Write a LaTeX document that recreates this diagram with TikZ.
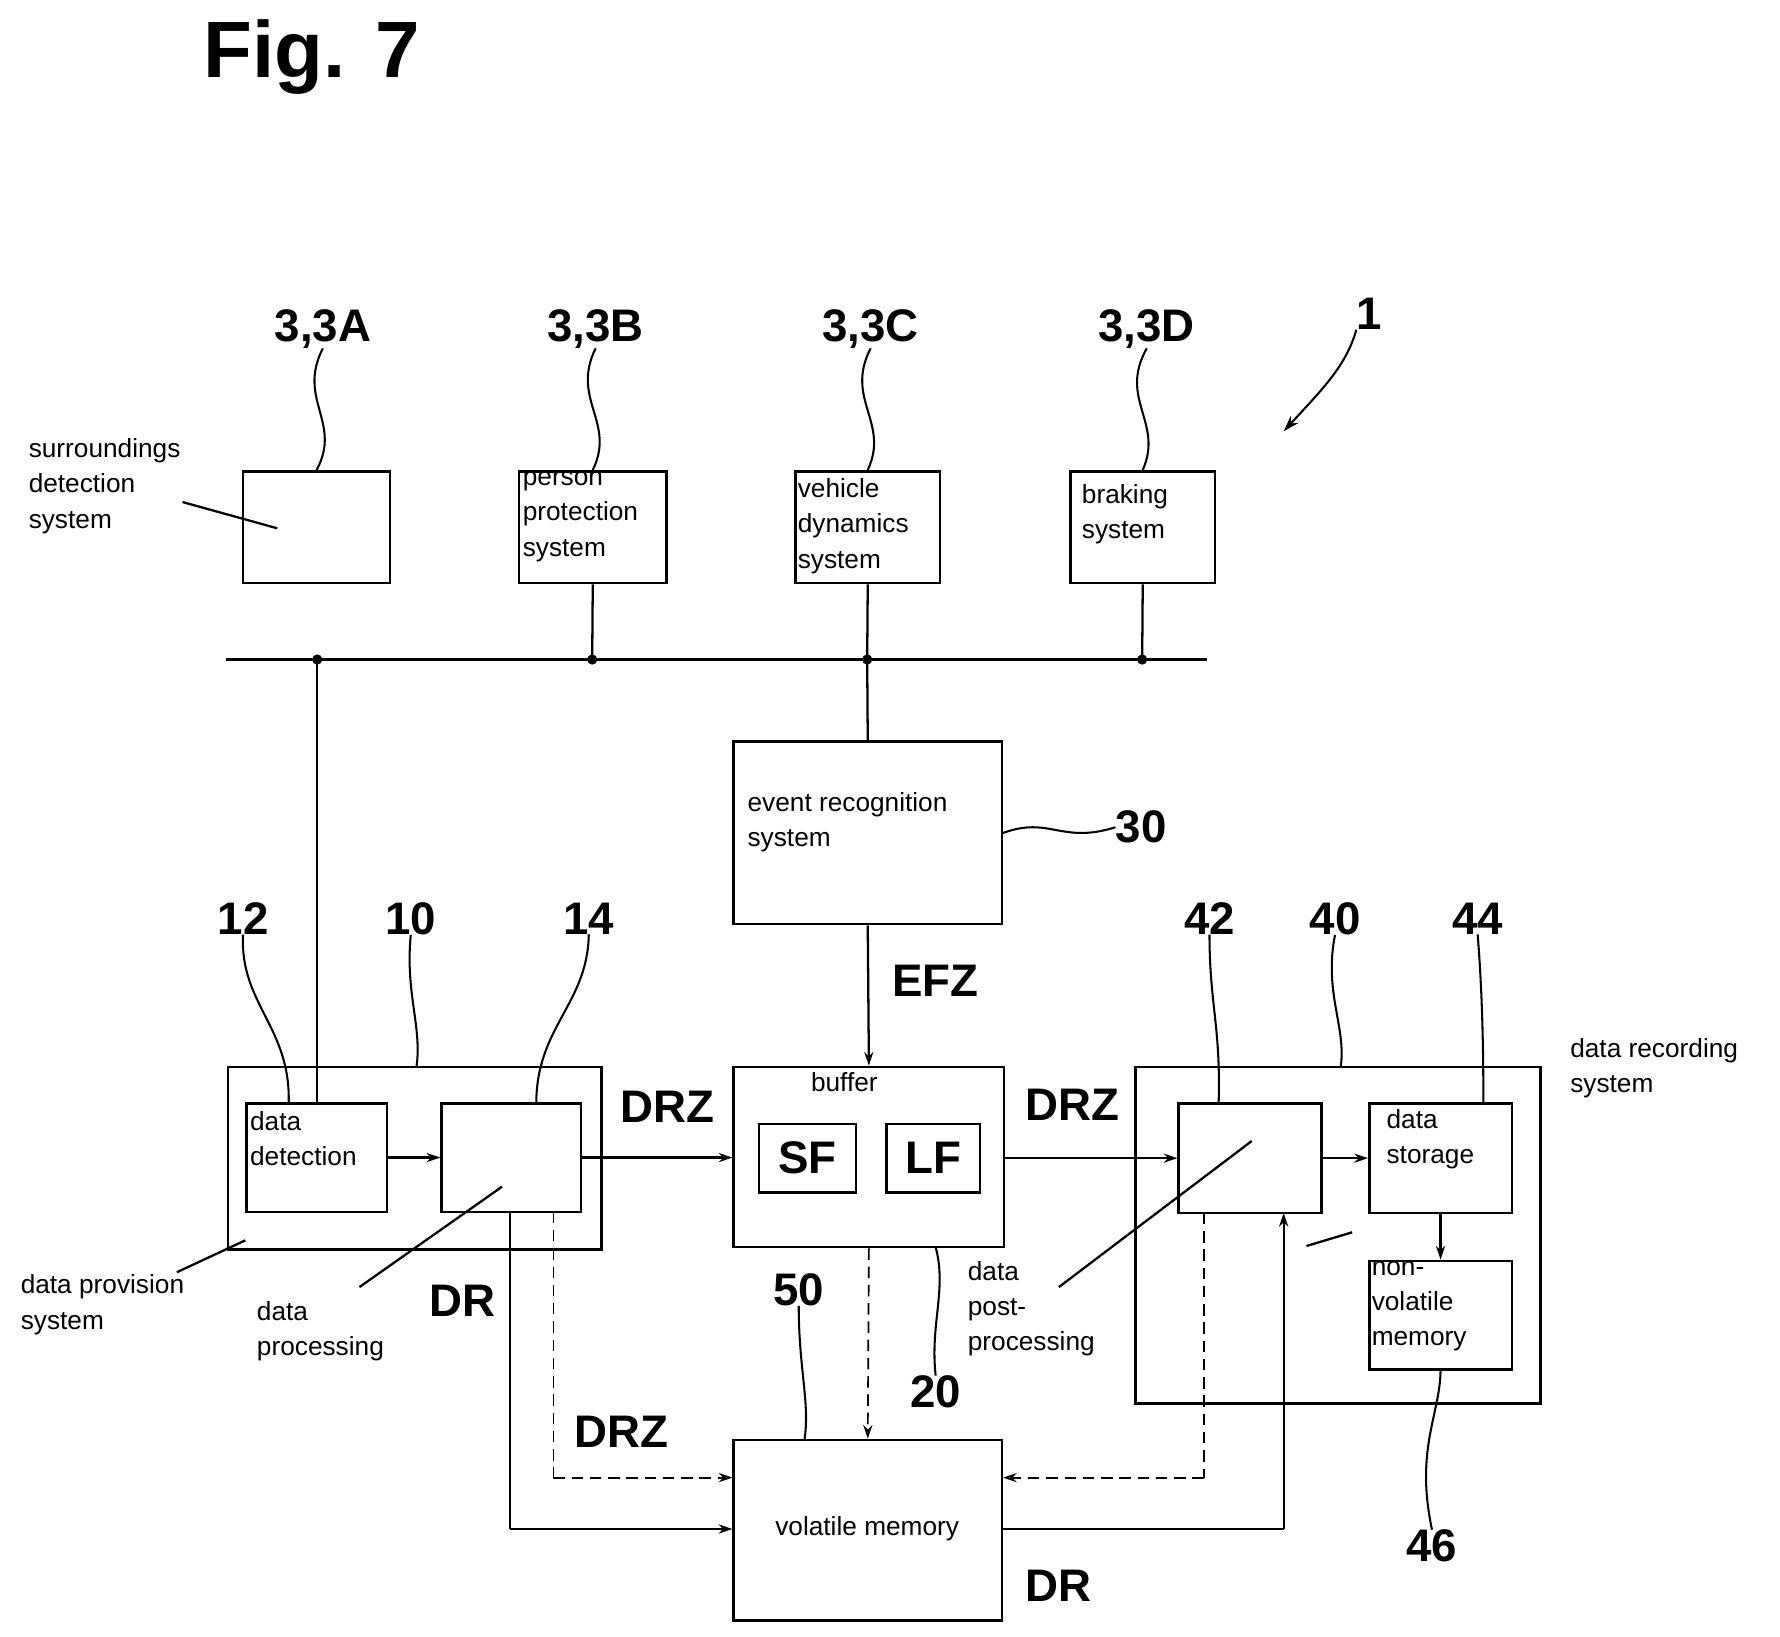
\documentclass[tikz,border=0pt]{standalone}
\usepackage{fontspec}
\setmainfont{Liberation Sans}
\usetikzlibrary{arrows.meta}
\begin{document}
\begin{tikzpicture}[x=1pt,y=-1pt,
  box/.style={draw,line width=2.2pt,inner sep=0pt},
  txt/.style={font=\fontsize{23}{31}\selectfont,align=left,inner sep=0pt},
  num/.style={font=\fontsize{40}{40}\selectfont\bfseries,inner sep=0pt},
  ln/.style={line width=2pt},
  arr/.style={line width=2pt,-{Stealth[length=12pt,width=8pt,open]}},
  dsh/.style={line width=1.5pt,dash pattern=on 10pt off 6pt},
  wv/.style={line width=1.8pt}]
\useasboundingbox (0,0) rectangle (1560,1434);
\node[font=\fontsize{70}{70}\selectfont\bfseries,anchor=west] (fig) at (175,50) {Fig. 7};
% top boxes
\node[box,minimum width=129pt,minimum height=98pt] (A) at (277.5,462) {};
\node[box,minimum width=129pt,minimum height=98pt] (B) at (519.5,462) {};
\node[box,minimum width=127pt,minimum height=98pt] (C) at (760.5,462) {};
\node[box,minimum width=127pt,minimum height=98pt] (D) at (1001.5,462) {};
\node[txt,anchor=north west] (Bt) at (458,413) {person\\protection\\system};
\node[txt,anchor=north west] (Ct) at (699,419) {vehicle\\dynamics\\system};
\node[txt,anchor=north west] (Dt) at (948,424) {braking\\system};
\node[txt,anchor=north west] (At) at (25,384) {surroundings\\detection\\system};
\coordinate (atl) at (160,440); \coordinate (atr) at (243,463);
\draw[ln] (atl)--(atr);
% labels
\node[num] (lA) at (283,288) {3,3A};
\node[num] (lB) at (522,288) {3,3B};
\node[num] (lC) at (763,288) {3,3C};
\node[num] (lD) at (1005,288) {3,3D};
\draw[wv] (lA.south) .. controls (260,350) and (300,370) .. (A.north);
\draw[wv] (lB.south) .. controls (500,350) and (540,370) .. (B.north);
\draw[wv] (lC.south) .. controls (740,350) and (780,370) .. (C.north);
\draw[wv] (lD.south) .. controls (980,350) and (1020,370) .. (D.north);
\node[num] (l1) at (1200,275) {1};
\coordinate (p1) at (1125,378);
\draw[line width=1.8pt,-{Stealth[length=14pt,width=9pt]}] (l1.south west) .. controls (1180,320) and (1160,340) .. (p1);
% bus
\coordinate (b0) at (198,578); \coordinate (b1) at (1058,578);
\draw[line width=2.5pt] (b0)--(b1);
\foreach \x/\n in {278/A,519/B,760/C,1001/D}{\fill (\x,578) circle (4.5pt);}
\draw[ln] (B.south)--(519,578);
\draw[ln] (C.south)--(760,578);
\draw[ln] (D.south)--(1001,578);
% event recognition
\node[box,minimum width=235pt,minimum height=160pt] (E) at (760.5,730) {};
\node[txt,anchor=north west] (Et) at (655,694) {event recognition\\system};
\draw[ln] (760,578)--(E.north);
\node[num] (l30) at (1000,725) {30};
\draw[wv] (E.east) .. controls (920,715) and (930,740) .. (l30.west);
% box 10
\node[box,minimum width=327pt,minimum height=160pt] (S10) at (363.5,1015) {};
\node[box,minimum width=123pt,minimum height=95pt] (S12) at (277.5,1014.5) {};
\node[box,minimum width=122pt,minimum height=95pt] (S14) at (448,1014.5) {};
\node[txt,anchor=north west] (S12t) at (219,974) {data\\detection};
\draw[ln] (278,578)--(S12.north -| 278,0);
\draw[arr] (S12.east)--(S14.west);
\node[num] (l12) at (213,805) {12};
\node[num] (l10) at (360,805) {10};
\node[num] (l14) at (516,805) {14};
\draw[wv] (l12.south) .. controls (210,880) and (255,900) .. (253,967);
\draw[wv] (l10.south) .. controls (355,870) and (370,900) .. (365,935);
\draw[wv] (l14.south) .. controls (515,880) and (470,900) .. (470,967);
% buffer
\node[box,minimum width=237pt,minimum height=158pt] (BF) at (761.5,1014) {};
\node[txt] (BFt) at (740,948) {buffer};
\node[box,minimum width=85pt,minimum height=60pt,font=\fontsize{40}{40}\selectfont\bfseries] (SF) at (707.5,1015) {SF};
\node[box,minimum width=82pt,minimum height=60pt,font=\fontsize{40}{40}\selectfont\bfseries] (LF) at (818,1015) {LF};
\draw[arr] (E.south)--(BF.north);
\node[num] (EFZ) at (820,860) {EFZ};
\draw[arr] (S14.east)--(BF.west |- S14.east);
\node[num] (drz1) at (585,970) {DRZ};
% box 40
\node[box,minimum width=355pt,minimum height=295pt] (S40) at (1172.5,1082.5) {};
\node[box,minimum width=125pt,minimum height=96pt] (S42) at (1095.5,1015) {};
\node[box,minimum width=125pt,minimum height=96pt] (S44) at (1262.5,1015) {};
\node[box,minimum width=125pt,minimum height=95pt] (S46) at (1262.5,1152.5) {};
\node[txt,anchor=north west] (S44t) at (1215,972) {data\\storage};
\node[txt,anchor=north west] (S46t) at (1202,1105) {non-\\volatile\\memory};
\draw[arr] (S42.east)--(S44.west);
\draw[arr] (S44.south)--(S46.north);
\draw[arr] (BF.east |- S42.west)--(S42.west);
\node[num] (drz2) at (940,968) {DRZ};
\node[num] (l42) at (1060,805) {42};
\node[num] (l40) at (1170,805) {40};
\node[num] (l44) at (1295,805) {44};
\draw[wv] (l42.south) .. controls (1060,880) and (1070,900) .. (1068,967);
\draw[wv] (l40.south) .. controls (1160,870) and (1180,900) .. (1175,935);
\draw[wv] (l44.south) .. controls (1300,880) and (1300,940) .. (1300,967);
\node[txt,anchor=north west] (S40t) at (1376,910) {data recording\\system};
\node[num] (l46) at (1255,1355) {46};
\draw[wv] (S46.south) .. controls (1262,1240) and (1240,1270) .. (l46.north);
% volatile memory
\node[box,minimum width=235pt,minimum height=158pt] (VM) at (760.5,1341) {};
\node[txt] (VMt) at (760,1340) {volatile memory};
\draw[dsh,-{Stealth[length=12pt,width=8pt,open]}] (BF.south)--(VM.north);
\node[num] (l50) at (700,1130) {50};
\node[num] (l20) at (820,1220) {20};
\draw[wv] (l50.south) .. controls (700,1200) and (710,1230) .. (705,1262);
\draw[wv] (820,1093) .. controls (830,1130) and (815,1160) .. (l20.north);
% left connections
\coordinate (c1) at (447,1340); \coordinate (c2) at (485,1295);
\draw[ln] (447,1062)--(c1);
\draw[arr] (c1)--(VM.west |- c1);
\draw[dsh] (485,1062)--(c2);
\draw[dsh,-{Stealth[length=12pt,width=8pt,open]}] (c2)--(VM.west |- c2);
\node[num] (dr1) at (405,1140) {DR};
\node[num] (drz3) at (545,1255) {DRZ};
% right connections
\coordinate (c3) at (1125,1340); \coordinate (c4) at (1055,1295);
\draw[ln] (VM.east |- c3)--(c3);
\draw[arr] (c3)--(1125,1063);
\draw[dsh] (1055,1063)--(c4);
\draw[dsh,-{Stealth[length=12pt,width=8pt,open]}] (c4)--(VM.east |- c4);
\node[num] (dr2) at (928,1390) {DR};
\coordinate (m1) at (1145,1092); \coordinate (m2) at (1185,1080);
\draw[ln] (m1)--(m2);
% text leaders
\node[txt,anchor=north west] (pp) at (848,1105) {data\\post-\\processing};
\coordinate (pp1) at (928,1128); \coordinate (pp2) at (1097,1000);
\draw[ln] (pp1)--(pp2);
\node[txt,anchor=north west] (dp) at (225,1140) {data\\processing};
\coordinate (dp1) at (315,1128); \coordinate (dp2) at (440,1040);
\draw[ln] (dp1)--(dp2);
\node[txt,anchor=north west] (dv) at (18,1117) {data provision\\system};
\coordinate (dv1) at (155,1115); \coordinate (dv2) at (215,1087);
\draw[ln] (dv1)--(dv2);
\end{tikzpicture}
\end{document}
